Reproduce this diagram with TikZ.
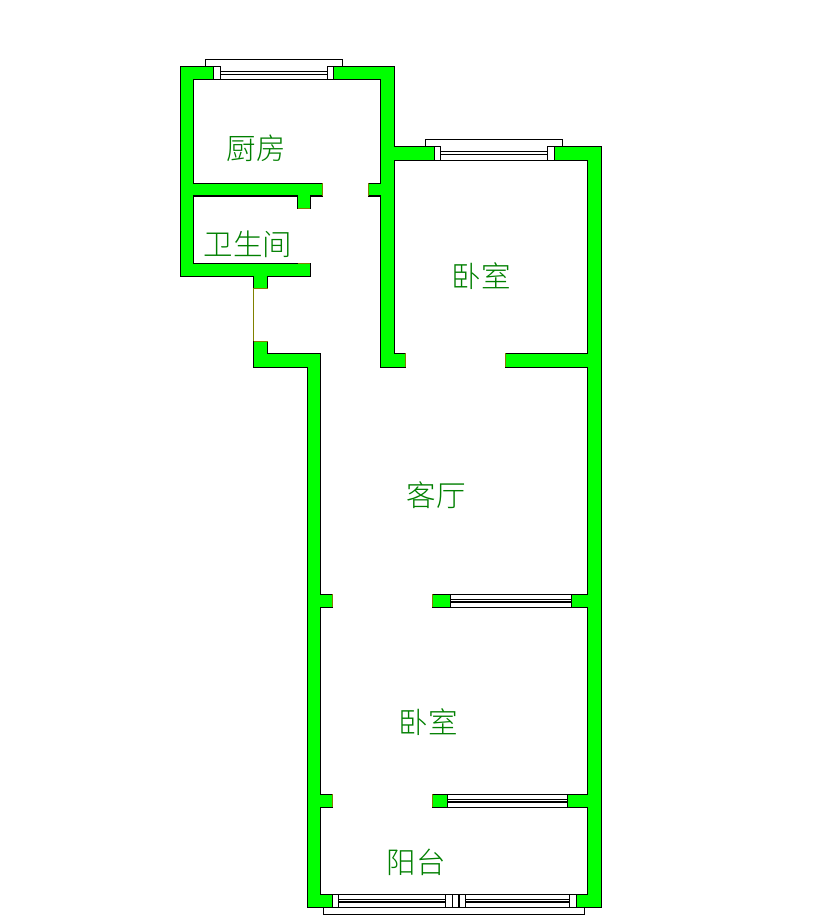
\documentclass[tikz,border=0pt]{standalone}
\usepackage{fontspec}
\newfontfamily\cjk[UprightFont=* Light]{Noto Sans CJK SC}
\definecolor{wallgreen}{RGB}{0,255,0}
\definecolor{textgreen}{RGB}{0,128,0}
\definecolor{doorolive}{RGB}{128,128,0}
\begin{document}
\begin{tikzpicture}[x=1pt,y=-1pt,line cap=butt,line join=miter,
  wall/.style={fill=wallgreen,draw=black,line width=1.2pt},
  pane/.style={draw=black,line width=1.2pt},
  jamb/.style={draw=black,fill=white,line width=1.2pt},
  doorend/.style={draw=doorolive,line width=1pt},
  roomlabel/.style={font=\cjk\fontsize{29.5}{29.5}\selectfont,text=textgreen,inner sep=0pt}]
\useasboundingbox[fill=white] (0,0) rectangle (818,921);
\draw[wall] (213.3,66.3) -- (180.7,66.3) -- (180.7,276.3) -- (253.7,276.3) -- (253.7,288.3) -- (267.7,288.3) -- (267.7,276.3) -- (310.3,276.3) -- (310.3,263.3) -- (193.3,263.3) -- (193.3,196) -- (297.7,196) -- (297.7,208.3) -- (310.3,208.3) -- (310.3,196) -- (322.3,196) -- (322.3,183.3) -- (193.3,183.3) -- (193.3,79.3) -- (213.3,79.3) -- cycle;
\draw[wall] (333.3,66.3) -- (394.3,66.3) -- (394.3,146.3) -- (434.3,146.3) -- (434.3,160.3) -- (394.3,160.3) -- (394.3,353.3) -- (405.7,353.3) -- (405.7,367.3) -- (380.7,367.3) -- (380.7,196) -- (368.3,196) -- (368.3,183.3) -- (380.7,183.3) -- (380.7,79.3) -- (333.3,79.3) -- cycle;
\draw[wall] (554.7,146.3) -- (601.3,146.3) -- (601.3,907.3) -- (576.7,907.3) -- (576.7,894.3) -- (587.7,894.3) -- (587.7,807.3) -- (567.3,807.3) -- (567.3,794.3) -- (587.7,794.3) -- (587.7,607.3) -- (571.7,607.3) -- (571.7,594.3) -- (587.7,594.3) -- (587.7,367.3) -- (505.3,367.3) -- (505.3,353.3) -- (587.7,353.3) -- (587.7,160.3) -- (554.7,160.3) -- cycle;
\draw[wall] (253.7,341.3) -- (267.7,341.3) -- (267.7,353.3) -- (320.3,353.3) -- (320.3,594.3) -- (332.3,594.3) -- (332.3,607.3) -- (320.3,607.3) -- (320.3,794.3) -- (332.3,794.3) -- (332.3,807.3) -- (320.3,807.3) -- (320.3,894.3) -- (332.3,894.3) -- (332.3,907.3) -- (307.3,907.3) -- (307.3,367.3) -- (253.7,367.3) -- cycle;
\draw[wall] (432.3,594.3) rectangle (450.3,607.3);
\draw[wall] (432.3,794.3) rectangle (447.7,807.3);
\draw[doorend] (253.7,288.3) -- (253.7,341.3);
\draw[doorend] (253.7,288.3) -- (267.7,288.3);
\draw[doorend] (253.7,341.3) -- (267.7,341.3);
\draw[doorend] (297.7,208.3) -- (310.3,208.3);
\draw[doorend] (297.7,263.3) -- (310.3,263.3);
\foreach \x/\ya/\yb in {322.3/183.3/196,368.3/183.3/196,405.7/353.3/367.3,505.3/353.3/367.3,332.3/594.3/607.3,432.3/594.3/607.3,332.3/794.3/807.3,432.3/794.3/807.3}
\draw[doorend] (\x,\ya) -- (\x,\yb);
% windows on top
\draw[pane] (205.7,66.3) -- (205.7,59.3) -- (342.3,59.3) -- (342.3,66.3);
\draw[pane] (425.7,146.3) -- (425.7,139.3) -- (562.3,139.3) -- (562.3,146.3);
\foreach \y in {71.7,74.3,79.3}
\draw[pane] (220.7,\y) -- (327.3,\y);
\foreach \y in {151.7,154.3,160.3}
\draw[pane] (440.7,\y) -- (547.3,\y);
\draw[jamb] (213.3,66.3) rectangle (220.7,79.3);
\draw[jamb] (327.3,66.3) rectangle (333.3,79.3);
\draw[jamb] (434.3,146.3) rectangle (440.7,160.3);
\draw[jamb] (547.3,146.3) rectangle (554.7,160.3);
% windows between rooms
\draw[jamb] (450.3,594.3) rectangle (571.7,607.3);
\draw[jamb] (447.7,794.3) rectangle (567.3,807.3);
\foreach \y in {599.3,602}
\draw[pane] (450.3,\y) -- (571.7,\y);
\foreach \y in {799.3,802}
\draw[pane] (447.7,\y) -- (567.3,\y);
% window at the bottom
\draw[pane] (323.3,907.3) -- (323.3,914.3) -- (584.3,914.3) -- (584.3,907.3);
\draw[pane] (338.7,894.3) -- (569.3,894.3);
\foreach \y in {899.3,902,907.3}
\draw[pane] (338.7,\y) -- (569.3,\y);
\foreach \xa/\xb in {332.3/338.7,569.3/576.7,445.3/452.3,452.3/459,459/465.7}
\draw[jamb] (\xa,894.3) rectangle (\xb,907.3);
\node[roomlabel] (kitchen) at (256,148) {厨房};
\node[roomlabel] (bath) at (248,244) {卫生间};
\node[roomlabel] (bedroomtop) at (481,276) {卧室};
\node[roomlabel] (living) at (436,495) {客厅};
\node[roomlabel] (bedroomlow) at (428,722) {卧室};
\node[roomlabel] (balcony) at (416,862) {阳台};
\end{tikzpicture}
\end{document}
